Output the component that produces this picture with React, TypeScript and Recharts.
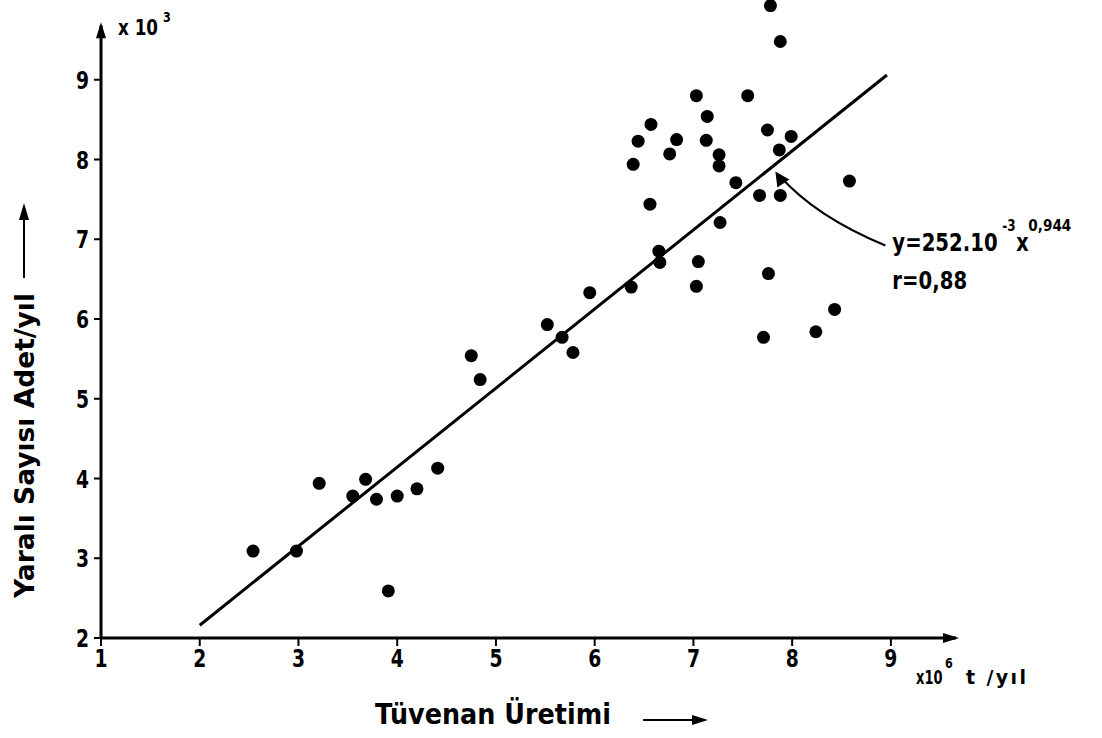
import React from 'react';
import { ScatterChart, Scatter, XAxis, YAxis, ReferenceLine, ReferenceDot } from 'recharts';

// tüvenan üretimi (x10^6 t/yıl)
const uretim = [
  2.54, 2.98, 3.21, 3.55, 3.68, 3.79, 4.0, 3.91, 4.2, 4.41, 4.75, 4.84, 5.52, 5.67, 5.78, 5.95,
  6.37, 7.78, 7.88, 7.03, 7.55, 6.57, 7.14, 6.44, 6.83, 7.13, 7.75, 7.99, 6.76, 7.26, 6.39, 7.26,
  7.87, 7.43, 8.58, 6.56, 7.67, 7.88, 7.27, 6.65, 6.66, 7.05, 7.03, 7.76, 8.43, 8.24, 7.71,
];

// yaralı sayısı (x10^3 adet/yıl)
const yarali = [
  3.09, 3.09, 3.94, 3.78, 3.99, 3.74, 3.78, 2.59, 3.87, 4.13, 5.54, 5.24, 5.93, 5.77, 5.58, 6.33,
  6.4, 9.93, 9.48, 8.8, 8.8, 8.44, 8.54, 8.23, 8.25, 8.24, 8.37, 8.29, 8.07, 8.06, 7.94, 7.92,
  8.12, 7.71, 7.73, 7.44, 7.55, 7.55, 7.21, 6.85, 6.71, 6.72, 6.41, 6.57, 6.12, 5.84, 5.77,
];

// regresyon doğrusu uç noktaları
const fitX = [2.0, 8.96];
const fitY = [2.16, 9.06];

const xTicks = [1, 2, 3, 4, 5, 6, 7, 8, 9];
const yTicks = [2, 3, 4, 5, 6, 7, 8, 9];

const points = uretim.map((x, i) => ({ x, y: yarali[i] }));
const fitLine = fitX.map((x, i) => ({ x, y: fitY[i] }));

const FONT = '"DejaVu Sans", sans-serif';

// dar, kalın yazı (orijinaldeki DIN benzeri harfler için)
const T = ({ x, y, size, sx = 0.75, anchor = 'start', children }: any) => (
  <text
    transform={`translate(${x},${y}) scale(${sx},1)`}
    fontFamily={FONT}
    fontWeight="bold"
    fontSize={size}
    textAnchor={anchor}
    fill="#000"
  >
    {children}
  </text>
);

const XTick = (p: any) => <T x={p.x} y={p.y + 21} size={25} anchor="middle">{p.payload.value}</T>;
const YTick = (p: any) => <T x={p.x} y={p.y + 9} size={25} anchor="end">{p.payload.value}</T>;

const Dot = (p: any) => <circle cx={p.cx} cy={p.cy} r={6.5} fill="#000" />;
const NoDot = () => <g />;

const ArrowUp = (p: any) => (
  <path d={`M${p.cx},${p.cy} L${p.cx - 5},${p.cy + 16} L${p.cx + 5},${p.cy + 16} Z`} fill="#000" />
);
const ArrowRight = (p: any) => (
  <path d={`M${p.cx},${p.cy} L${p.cx - 16},${p.cy - 5} L${p.cx - 16},${p.cy + 5} Z`} fill="#000" />
);

// eğri ok + denklem metni
const Annotation = (p: any) => {
  const { cx, cy } = p;
  return (
    <g>
      <path
        d={`M${cx + 4},${cy + 4} Q${cx + 40},${cy + 45} ${cx + 110},${cy + 74}`}
        stroke="#000"
        strokeWidth={2}
        fill="none"
      />
      <path d={`M${cx},${cy} L${cx + 2},${cy + 16} L${cx + 14},${cy + 8} Z`} fill="#000" />
      <T x={cx + 117} y={cy + 80} size={24} sx={0.82}>y=252.10</T>
      <T x={cx + 227} y={cy + 60} size={15} sx={0.8}>-3</T>
      <T x={cx + 241} y={cy + 80} size={24} sx={0.8}>x</T>
      <T x={cx + 253} y={cy + 60} size={16} sx={0.85}>0,944</T>
      <T x={cx + 117} y={cy + 118} size={24} sx={0.82}>r=0,88</T>
    </g>
  );
};

export default function App() {
  return (
    <div style={{ position: 'absolute', left: 0, top: 0, width: 1102, height: 738, background: '#fff' }}>
      <ScatterChart width={1102} height={738} margin={{ top: 4, right: 142, bottom: 60, left: 41 }}>
        <XAxis
          type="number"
          dataKey="x"
          domain={[1, 9.7]}
          ticks={xTicks}
          axisLine={false}
          tickLine={{ stroke: '#000', strokeWidth: 2 }}
          tickSize={8}
          tickMargin={0}
          height={40}
          tick={XTick}
        />
        <YAxis
          type="number"
          dataKey="y"
          domain={[2, 9.95]}
          ticks={yTicks}
          axisLine={false}
          tickLine={{ stroke: '#000', strokeWidth: 2 }}
          tickSize={7}
          tickMargin={5}
          width={60}
          tick={YTick}
        />
        <ReferenceLine segment={[{ x: 1, y: 2 }, { x: 9.66, y: 2 }]} stroke="#000" strokeWidth={3} ifOverflow="visible" />
        <ReferenceLine segment={[{ x: 1, y: 2 }, { x: 1, y: 9.68 }]} stroke="#000" strokeWidth={3} ifOverflow="visible" />
        <ReferenceDot x={9.69} y={2} ifOverflow="visible" shape={ArrowRight} />
        <ReferenceDot x={1} y={9.72} ifOverflow="visible" shape={ArrowUp} />
        <Scatter
          data={fitLine}
          line={{ stroke: '#000', strokeWidth: 3 }}
          shape={NoDot}
          isAnimationActive={false}
        />
        <Scatter data={points} fill="#000" shape={Dot} isAnimationActive={false} />
        <ReferenceDot x={7.83} y={7.85} ifOverflow="visible" shape={Annotation} />
      </ScatterChart>
      <svg
        width={1102}
        height={738}
        style={{ position: 'absolute', left: 0, top: 0, pointerEvents: 'none' }}
      >
        <T x={118} y={35} size={21} sx={0.8}>x 10</T>
        <T x={163} y={22} size={14} sx={0.8}>3</T>
        <T x={916} y={684} size={20} sx={0.65}>x10</T>
        <T x={945} y={668} size={14} sx={0.8}>6</T>
        <text
          x={966}
          y={684}
          fontFamily={FONT}
          fontWeight="bold"
          fontSize={19}
          fill="#000"
          textLength={60}
          lengthAdjust="spacing"
        >
          t /yıl
        </text>
        <text
          x={375}
          y={724}
          fontFamily={FONT}
          fontWeight="bold"
          fontSize={29}
          fill="#000"
          textLength={236}
          lengthAdjust="spacingAndGlyphs"
        >
          Tüvenan Üretimi
        </text>
        <line x1={643} y1={720} x2={694} y2={720} stroke="#000" strokeWidth={2} />
        <path d="M708,720 L692,715 L692,725 Z" fill="#000" />
        <text
          transform="translate(34,598) rotate(-90)"
          fontFamily={FONT}
          fontWeight="bold"
          fontSize={27}
          fill="#000"
          textLength={305}
          lengthAdjust="spacingAndGlyphs"
        >
          Yaralı Sayısı Adet/yıl
        </text>
        <line x1={24} y1={278} x2={24} y2={218} stroke="#000" strokeWidth={2} />
        <path d="M24,203 L19,220 L29,220 Z" fill="#000" />
      </svg>
    </div>
  );
}
